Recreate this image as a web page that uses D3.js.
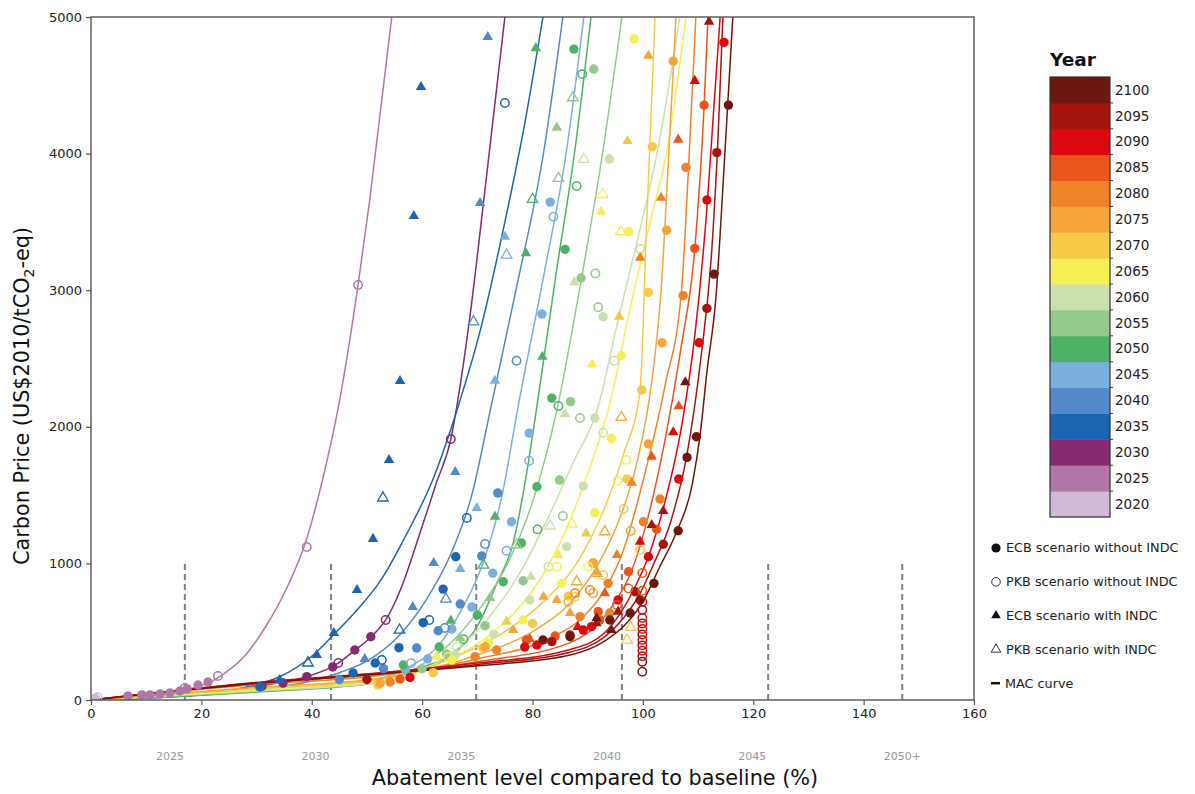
<!DOCTYPE html>
<html>
<head>
<meta charset="utf-8">
<script src="https://cdn.jsdelivr.net/npm/d3@7"></script>
<style>
  body { margin: 0; background: #fff; }
  text { font-family: "DejaVu Sans", sans-serif; }
</style>
</head>
<body>
<svg id="chart" width="1195" height="794"></svg>
<script>
// ---- data ----------------------------------------------------------------
const years = [2020, 2025, 2030, 2035, 2040, 2045, 2050, 2055, 2060,
               2065, 2070, 2075, 2080, 2085, 2090, 2095, 2100];
const yearColors = ["#d3b9d8", "#b076a8", "#852a71", "#1a64b0", "#5389c9",
                    "#7bb0de", "#4db263", "#93c989", "#cbe0ad", "#f5ef55",
                    "#f6ca47", "#f5a53a", "#f08329", "#e8561b", "#dc0810",
                    "#a5150f", "#6d180e"];

const xTicks = [0, 20, 40, 60, 80, 100, 120, 140, 160];
const yTicks = [0, 1000, 2000, 3000, 4000, 5000];

// abatement reached at the end of each period, and where its label sits
const periodMarks = [17, 43.5, 69.8, 96.2, 122.7, 147];
const periodLabelX = [14.3, 40.7, 67.1, 93.5, 119.8, 147];
const periodLabels = ["2025", "2030", "2035", "2040", "2045", "2050+"];

// marginal abatement cost curves: [year, [[abatement %, price], ...]]
const macCurves = [
  [2025, [[0,0],[10,30],[17,75],[21,120],[24,190],[28,330],[32,560],[35.5,822],[39,1170],[42,1620],[44.8,2140],[48.4,3040],[50.5,3660],[54.5,5000]]],
  [2030, [[0,0],[20,50],[30,100],[39,170],[44,250],[48,370],[50.7,460],[53.4,586],[56,800],[59.6,1220],[62.5,1580],[65.2,1910],[67,2330],[68.8,2850],[71,3600],[73,4300],[75,5000]]],
  [2035, [[0,0],[20,40],[28.2,95],[34.2,170],[40,320],[44,480],[48,650],[52.4,870],[57,1200],[62,1620],[66.3,2120],[70.5,2700],[75,3500],[78.5,4200],[81.9,5000]]],
  [2040, [[0,0],[28.8,70],[45,200],[50.6,300],[56,480],[61,750],[65,1050],[69,1500],[72.5,2150],[77,3000],[82.1,4030],[85.5,5000]]],
  [2045, [[0,0],[28.8,60],[50.6,140],[58,250],[63,400],[67,650],[71,1000],[74.5,1500],[77.4,2150],[82,3100],[86.2,4030],[89.3,5000]]],
  [2050, [[0,0],[28.8,55],[52.4,130],[60,240],[65.6,340],[70,540],[73.5,850],[76.5,1150],[78.6,1580],[80.8,2150],[84.2,3100],[87.7,4030],[90.6,5000]]],
  [2055, [[0,0],[28.8,60],[52.4,130],[60,260],[66,450],[71,700],[75.5,1000],[80,1450],[84.4,2120],[88.5,3000],[92.8,4030],[96.2,5000]]],
  [2060, [[0,0],[28.8,65],[52.4,130],[62,260],[68,430],[73,650],[78,950],[83,1350],[87.5,1750],[91.7,2120],[95.5,2780],[98.8,3330],[102.7,4030],[106.7,5000]]],
  [2065, [[0,0],[28.8,70],[52.4,140],[65,300],[73,500],[80,800],[85,1150],[89.5,1600],[94.2,2200],[97.6,2850],[101.2,3480],[104.4,4030],[107.8,5000]]],
  [2070, [[0,0],[28.8,80],[52.4,150],[65,300],[75,500],[82,720],[88,1000],[93,1400],[96.5,1800],[99.5,2270],[100.6,3400],[101.4,4200],[102.2,5000]]],
  [2075, [[0,0],[28.8,90],[52.4,160],[70,330],[80,500],[87,720],[92,1000],[96,1350],[99,1750],[101.5,2300],[103.3,3000],[104.7,4000],[106,5000]]],
  [2080, [[0,0],[28.8,110],[52.4,180],[70,300],[83,450],[89,600],[93,800],[96.5,1100],[100,1600],[104,2300],[107,3000],[108.4,4000],[109.6,5000]]],
  [2085, [[0,0],[28.8,120],[52.4,190],[70,280],[86.8,420],[92,560],[95,720],[98,950],[101,1350],[104,1900],[107,2600],[109.4,3300],[111.1,4350],[111.8,5000]]],
  [2090, [[0,0],[28.8,125],[52.4,200],[70,270],[86.8,370],[93,490],[96,640],[98.5,820],[101,1050],[104,1450],[107,2000],[109.5,2700],[111.6,3600],[112.8,4300],[114,5000]]],
  [2095, [[0,0],[28.8,120],[52.4,195],[70,260],[86.8,350],[93,460],[96.5,600],[99.5,780],[102,1000],[105,1300],[108,1800],[110.5,2500],[112.5,3300],[113.6,4100],[114.5,5000]]],
  [2100, [[0,0],[28.8,117],[52.4,190],[70,250],[86.8,330],[93,430],[97,560],[100,720],[103,970],[106,1220],[109,1590],[110.4,1950],[111.6,2400],[113.2,2930],[114.9,4030],[116.3,5000]]]
];

// scenario results: [year, abatement %, price]
const ecbNoIndc = [
  [2020,0.8,14],
  [2025,6.7,29],[2025,9.2,37],[2025,10.7,37],[2025,12.5,44],[2025,14.3,51],[2025,16.1,66],[2025,17.4,81],[2025,19.4,110],[2025,21.2,132],
  [2030,31,102],[2030,34.8,124],[2030,39.1,171],[2030,43.8,242],[2030,47.8,366],[2030,50.7,463],
  [2035,30.6,95],[2035,47.5,198],[2035,51.5,271],[2035,55.8,383],[2035,60.2,566],[2035,63.8,812],[2035,66.1,1049],
  [2040,45,150],[2040,53,230],[2040,59,381],[2040,62.9,507],[2040,66.9,703],[2040,70.8,1054],[2040,73.7,1515],
  [2045,57,220],[2045,61,300],[2045,65.4,520],[2045,69,681],[2045,72.8,929],[2045,76.2,1305],[2045,79.4,1954],[2045,81.7,2826],[2045,83.2,3645],
  [2050,56.6,256],[2050,63.1,388],[2050,70,622],[2050,74.7,866],[2050,78,1149],[2050,80.8,1561],[2050,83.5,2210],[2050,85.9,3299],[2050,87.5,4765],
  [2055,60,230],[2055,64.4,337],[2055,71.4,544],[2055,78.3,873],[2055,84.9,1610],[2055,86.9,2184],[2055,88.8,3089],[2055,91.1,4619],
  [2060,66,330],[2060,73,480],[2060,79.5,732],[2060,86.2,1122],[2060,89.2,1566],[2060,91.3,2064],[2060,92.8,2806],[2060,93.9,3960],
  [2065,65.4,293],[2065,72,420],[2065,78.3,586],[2065,85.3,854],[2065,91.3,1371],[2065,94.3,1915],[2065,96.1,2520],[2065,97.4,3428],[2065,98.4,4839],
  [2070,52,110],[2070,62,200],[2070,71,380],[2070,80,560],[2070,86.5,760],[2070,91,1007],[2070,97.1,1618],[2070,99.8,2269],[2070,101,2984],[2070,101.7,4050],
  [2075,52.4,124],[2075,71.4,390],[2075,91,1000],[2075,101,1874],[2075,103.5,2615],[2075,104.3,3440],[2075,105.5,4677],
  [2080,54.2,132],[2080,69.6,317],[2080,73.5,366],[2080,88.6,610],[2080,93.7,854],[2080,94,637],[2080,100.1,1305],[2080,103.1,1471],[2080,107.3,2960],[2080,107.8,3899],
  [2085,56,154],[2085,78.9,439],[2085,84.1,468],[2085,91.9,647],[2085,92.2,586],[2085,97.4,939],[2085,102.5,1250],[2085,109.4,3306],[2085,111.1,4355],
  [2090,57.8,165],[2090,78.6,388],[2090,80.8,403],[2090,89.2,512],[2090,90.7,537],[2090,95.5,732],[2090,101,1049],[2090,106.5,1618],[2090,110.2,2615],[2090,111.6,3660],[2090,114.7,4814],
  [2095,50,150],[2095,83.5,427],[2095,86.8,476],[2095,98.6,793],[2095,103.7,1140],[2095,111.6,2867],[2095,113.4,4007],
  [2100,81.9,439],[2100,86.8,463],[2100,94,586],[2100,97.7,637],[2100,99.5,732],[2100,102,854],[2100,106.4,1239],[2100,108,1776],[2100,109.7,1927],[2100,112.9,3118],[2100,115.5,4355]
];

const pkbNoIndc = [
  [2020,1.2,20],
  [2025,17.0,88],[2025,23.0,176],[2025,39.1,1120],[2025,48.4,3038],
  [2030,44.8,271],[2030,53.4,586],[2030,65.2,1910],
  [2035,52.7,293],[2035,61.3,586],[2035,68.1,1332],[2035,75,4370],
  [2040,64.1,527],[2040,71.4,1142],[2040,77.1,2483],
  [2045,58,270],[2045,75.3,1093],[2045,79.4,1752],[2045,83.8,3538],
  [2050,67.5,446],[2050,80.9,1249],[2050,84.7,2152],[2050,88,3762],[2050,89,4582],
  [2055,85.5,1347],[2055,88.6,2064],[2055,91.4,3123],[2055,91.9,2875],
  [2060,66.3,390],[2060,82.9,975],[2060,92.8,1957],[2060,94.8,2483],[2060,99.5,3302],
  [2065,64.7,315],[2065,84.4,975],[2065,90.1,975],[2065,95.4,1605],[2065,97,1757],
  [2070,87.7,756],[2070,92.8,915],[2070,96.5,1398],[2070,99.5,1098],
  [2075,86.5,720],[2075,91,781],[2075,97.8,1237],
  [2080,87.7,781],[2080,90.4,805],
  [2085,95.3,695],[2085,97.4,817],[2085,99.9,930],[2085,99.9,800],
  [2090,99.9,720],[2090,99.9,600],[2090,99.9,520],[2090,99.9,440],[2090,99.9,360],
  [2095,99.9,660],[2095,99.9,560],[2095,99.9,480],[2095,99.9,400],[2095,99.9,320],
  [2100,99.9,280],[2100,99.9,207]
];

const ecbIndc = [
  [2035,34.2,146],[2035,40.9,329],[2035,44,490],[2035,48.2,805],[2035,51.1,1179],[2035,54,1757],[2035,56,2335],[2035,58.5,3543],[2035,59.8,4487],
  [2040,49.6,300],[2040,58.3,681],[2040,62.1,1003],[2040,66,1669],[2040,70.5,3638],[2040,71.9,4853],
  [2045,66.9,959],[2045,69.9,1405],[2045,73.2,2337],[2045,75,3391],
  [2050,65.2,581],[2050,73.2,1342],[2050,78.8,3270],[2050,80.6,4772],[2050,81.8,2513],
  [2055,66.9,454],[2055,72.3,747],[2055,84.4,4190],
  [2060,79.7,903],[2060,85.9,2094],[2060,87.6,3059],
  [2065,62.6,317],[2065,84.7,1061],[2065,90.8,2457],[2065,92.4,3574],
  [2070,75.3,573],[2070,89.7,1220],[2070,95.7,2806],[2070,97.2,4092],
  [2075,76.5,512],[2075,82,756],[2075,84.4,732],[2075,86.8,637],[2075,91.6,939],[2075,101,4716],
  [2080,95.3,1061],[2080,98,1591],[2080,99.5,3237],[2080,103.3,3677],
  [2085,79.5,446],[2085,93.1,781],[2085,101.6,1781],[2085,106.5,2150],[2085,106.4,4102],
  [2090,88.2,535],[2090,99.5,1159],[2090,105.5,1960],[2090,109.4,4532],
  [2095,91.6,562],[2095,95.5,647],[2095,101.6,1281],[2095,103.7,1383],[2095,112,4965],
  [2100,91.6,598],[2100,94.3,512],[2100,107.7,2326]
];

const pkbIndc = [
  [2035,39.3,271],[2035,52.9,1479],[2035,55.9,512],
  [2040,64.3,739],[2040,69.3,2769],
  [2045,75.3,3257],
  [2050,71.1,988],[2050,80,3665],
  [2055,77.1,1135],[2055,84.7,3819],[2055,87.3,4409],
  [2060,83.2,1274],[2060,89.3,3958],
  [2065,87.1,1288],[2065,92.7,3701],[2065,96,3428],
  [2070,97.1,439],[2070,97.8,532],
  [2075,88,866],[2075,91.6,928],[2075,93.1,1232],[2075,96.1,2069]
];

const legendItems = ["ECB scenario without INDC", "PKB scenario without INDC",
                     "ECB scenario with INDC", "PKB scenario with INDC", "MAC curve"];

// ---- layout --------------------------------------------------------------
const svg = d3.select("#chart");
const plot = { left: 91, top: 17, right: 974, bottom: 700 };
const x = d3.scaleLinear().domain([0, 160]).range([plot.left, plot.right]);
const y = d3.scaleLinear().domain([0, 5000]).range([plot.bottom, plot.top]);
const color = d3.scaleOrdinal(years, yearColors);

svg.append("rect").attr("width", 1195).attr("height", 794).attr("fill", "#fff");

svg.append("defs").append("clipPath").attr("id", "plotClip")
  .append("rect")
  .attr("x", plot.left).attr("y", plot.top)
  .attr("width", plot.right - plot.left).attr("height", plot.bottom - plot.top);

const g = svg.append("g").attr("clip-path", "url(#plotClip)");

// period boundary markers
g.selectAll("line.period").data(periodMarks).join("line")
  .attr("class", "period")
  .attr("x1", d => x(d)).attr("x2", d => x(d))
  .attr("y1", y(0)).attr("y2", y(1000))
  .attr("stroke", "#808080").attr("stroke-width", 2)
  .attr("stroke-dasharray", "6,4");

// MAC curves
const line = d3.line().x(d => x(d[0])).y(d => y(d[1])).curve(d3.curveMonotoneX);
g.selectAll("path.mac").data(macCurves).join("path")
  .attr("class", "mac")
  .attr("d", d => line(d[1]))
  .attr("fill", "none")
  .attr("stroke", d => color(d[0]))
  .attr("stroke-width", 1.5);

// scenario markers
const tri = d3.symbol().type(d3.symbolTriangle).size(48);

g.selectAll("circle.ecb").data(ecbNoIndc).join("circle")
  .attr("cx", d => x(d[1])).attr("cy", d => y(d[2])).attr("r", 4.7)
  .attr("fill", d => color(d[0]));

g.selectAll("circle.pkb").data(pkbNoIndc).join("circle")
  .attr("cx", d => x(d[1])).attr("cy", d => y(d[2])).attr("r", 4.2)
  .attr("fill", "none").attr("stroke", d => color(d[0])).attr("stroke-width", 1.5);

g.selectAll("path.ecbi").data(ecbIndc).join("path")
  .attr("d", tri)
  .attr("transform", d => `translate(${x(d[1])},${y(d[2])})`)
  .attr("fill", d => color(d[0]));

g.selectAll("path.pkbi").data(pkbIndc).join("path")
  .attr("d", tri)
  .attr("transform", d => `translate(${x(d[1])},${y(d[2])})`)
  .attr("fill", "none").attr("stroke", d => color(d[0])).attr("stroke-width", 1.3);

// frame and axes
svg.append("rect")
  .attr("x", plot.left).attr("y", plot.top)
  .attr("width", plot.right - plot.left).attr("height", plot.bottom - plot.top)
  .attr("fill", "none").attr("stroke", "#555").attr("stroke-width", 1.4);

const xAxis = svg.append("g").attr("transform", `translate(0,${plot.bottom})`)
  .call(d3.axisBottom(x).tickValues(xTicks).tickSize(5).tickPadding(4));
const yAxis = svg.append("g").attr("transform", `translate(${plot.left},0)`)
  .call(d3.axisLeft(y).tickValues(yTicks).tickSize(5).tickPadding(4).tickFormat(d3.format("d")));
[xAxis, yAxis].forEach(a => {
  a.select(".domain").remove();
  a.selectAll(".tick line").attr("stroke", "#555").attr("stroke-width", 1.2);
  a.selectAll(".tick text").attr("font-size", 13).attr("fill", "#222")
    .attr("font-family", "DejaVu Sans, sans-serif");
});

// period labels under the axis
svg.selectAll("text.periodLabel").data(periodLabels).join("text")
  .attr("x", (d, i) => x(periodLabelX[i])).attr("y", 760)
  .attr("text-anchor", "middle").attr("font-size", 11).attr("fill", "#999")
  .text(d => d);

svg.append("text")
  .attr("x", 595).attr("y", 785).attr("text-anchor", "middle")
  .attr("font-size", 20.8).attr("fill", "#111")
  .text("Abatement level compared to baseline (%)");

const yTitle = svg.append("text")
  .attr("transform", "translate(29,396) rotate(-90)")
  .attr("text-anchor", "middle").attr("font-size", 20.8).attr("fill", "#111");
yTitle.append("tspan").text("Carbon Price (US$2010/tCO");
yTitle.append("tspan").attr("font-size", 14).attr("dy", 5).text("2");
yTitle.append("tspan").attr("dy", -5).text("-eq)");

// colour bar
const cb = { x: 1050, y: 77, w: 60, h: 440 };
const band = cb.h / years.length;
const cbg = svg.append("g");
cbg.selectAll("rect.band").data(years).join("rect")
  .attr("x", cb.x).attr("y", (d, i) => cb.y + (years.length - 1 - i) * band)
  .attr("width", cb.w).attr("height", band + 0.5)
  .attr("fill", d => color(d));
cbg.append("rect").attr("x", cb.x).attr("y", cb.y).attr("width", cb.w).attr("height", cb.h)
  .attr("fill", "none").attr("stroke", "#333").attr("stroke-width", 1.2);
cbg.selectAll("line.cbtick").data(d3.range(1, years.length)).join("line")
  .attr("x1", cb.x + cb.w).attr("x2", cb.x + cb.w + 3)
  .attr("y1", d => cb.y + d * band).attr("y2", d => cb.y + d * band)
  .attr("stroke", "#333").attr("stroke-width", 1);
cbg.selectAll("text.cblabel").data(years).join("text")
  .attr("x", cb.x + cb.w + 5)
  .attr("y", (d, i) => cb.y + (years.length - 1 - i + 0.5) * band)
  .attr("dy", "0.35em").attr("font-size", 13.5).attr("fill", "#222")
  .text(d => d);
cbg.append("text").attr("x", cb.x + 23).attr("y", 66).attr("text-anchor", "middle")
  .attr("font-size", 18.5).attr("font-weight", "bold").attr("fill", "#111").text("Year");

// legend
const lg = svg.append("g").attr("transform", "translate(996,548)");
const rowH = 33.8;
lg.append("circle").attr("cx", 0).attr("cy", 0).attr("r", 4.6).attr("fill", "#111");
lg.append("circle").attr("cx", 0).attr("cy", rowH).attr("r", 4.3)
  .attr("fill", "none").attr("stroke", "#333").attr("stroke-width", 1);
lg.append("path").attr("d", d3.symbol().type(d3.symbolTriangle).size(40)())
  .attr("transform", `translate(0,${2 * rowH})`).attr("fill", "#111");
lg.append("path").attr("d", d3.symbol().type(d3.symbolTriangle).size(40)())
  .attr("transform", `translate(0,${3 * rowH})`)
  .attr("fill", "none").attr("stroke", "#333").attr("stroke-width", 1);
lg.append("line").attr("x1", -5).attr("x2", 4).attr("y1", 4 * rowH).attr("y2", 4 * rowH)
  .attr("stroke", "#111").attr("stroke-width", 2.5);
lg.selectAll("text").data(legendItems).join("text")
  .attr("x", (d, i) => i === 4 ? 9 : 10).attr("y", (d, i) => i * rowH)
  .attr("dy", "0.35em").attr("font-size", 12.8).attr("fill", "#222")
  .text(d => d);
</script>
</body>
</html>
